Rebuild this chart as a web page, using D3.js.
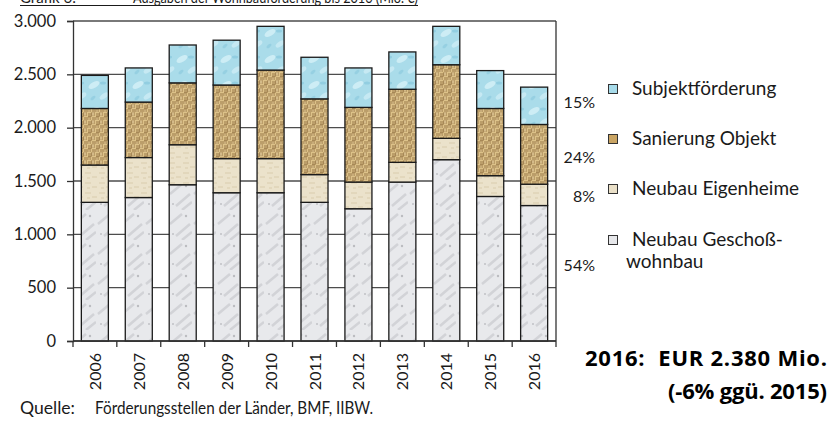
<!doctype html>
<html lang="de">
<head>
<meta charset="utf-8"/>
<title>Ausgaben der Wohnbauförderung bis 2016</title>
<style>
  body { margin: 0; background: #fff; }
  svg { display: block; }
  .lbl { font-family: Lato, "Open Sans", sans-serif; fill: #1a1a1a; }
  .big { font-family: "Open Sans", "Liberation Sans", sans-serif; font-weight: bold; fill: #000; }
</style>
<script src="https://d3js.org/d3.v7.min.js"></script>
</head>
<body>
<svg width="831" height="421"></svg>
<script>
// values in Mio. EUR
var years = ["2006","2007","2008","2009","2010","2011","2012","2013","2014","2015","2016"];
var geschoss   = [1300, 1345, 1465, 1390, 1390, 1300, 1240, 1490, 1700, 1355, 1270];
var eigenheime = [ 350,  375,  375,  320,  320,  260,  250,  185,  200,  195,  200];
var sanierung  = [ 530,  520,  580,  690,  830,  710,  700,  685,  690,  630,  560];
var subjekt    = [ 310,  320,  355,  420,  410,  390,  370,  350,  360,  355,  350];
var yTicks = [0, 500, 1000, 1500, 2000, 2500, 3000];
var seriesNames = ["Subjektförderung", "Sanierung Objekt", "Neubau Eigenheime", "Neubau Geschoß-"];
var shares = ["15%", "24%", "8%", "54%"];

var svg = d3.select("svg");
var plotLeft = 73, plotRight = 556, plotTop = 21, plotBottom = 341;

var x = d3.scaleBand().domain(years).range([plotLeft, plotRight]).paddingInner(0.385).paddingOuter(0.19);
var y = d3.scaleLinear().domain([0, 3000]).range([plotBottom, plotTop]);

// textures
var defs = svg.append("defs");

var pSub = defs.append("pattern").attr("id", "pSub").attr("patternUnits", "userSpaceOnUse")
    .attr("width", 22).attr("height", 26);
pSub.append("rect").attr("width", 22).attr("height", 26).attr("fill", "#aadcea");
pSub.append("ellipse").attr("cx", 6).attr("cy", 7).attr("rx", 6).attr("ry", 3).attr("fill", "#cdedf5").attr("transform", "rotate(-30 6 7)");
pSub.append("ellipse").attr("cx", 16).attr("cy", 18).attr("rx", 5).attr("ry", 2.5).attr("fill", "#c6e9f3").attr("transform", "rotate(-35 16 18)");
pSub.append("ellipse").attr("cx", 15).attr("cy", 5).attr("rx", 3).attr("ry", 1.5).attr("fill", "#92cee1");
pSub.append("ellipse").attr("cx", 5).attr("cy", 20).attr("rx", 3).attr("ry", 1.5).attr("fill", "#96d0e2").attr("transform", "rotate(-40 5 20)");

var pSan = defs.append("pattern").attr("id", "pSan").attr("patternUnits", "userSpaceOnUse")
    .attr("width", 8).attr("height", 8);
pSan.append("rect").attr("width", 8).attr("height", 8).attr("fill", "#ddc289");
pSan.append("path").attr("d", "M0,2H4M0,4H4M4,0V4M6,0V4M4,6H8M4,8H8M2,4V8M0,4V8")
    .attr("stroke", "#86663a").attr("stroke-width", 0.8).attr("fill", "none");
pSan.append("rect").attr("x", 4.5).attr("y", 0.5).attr("width", 1).attr("height", 3).attr("fill", "#eed8a8");
pSan.append("rect").attr("x", 0.5).attr("y", 6.5).attr("width", 1).attr("height", 1).attr("fill", "#eed8a8");

var pEig = defs.append("pattern").attr("id", "pEig").attr("patternUnits", "userSpaceOnUse")
    .attr("width", 14).attr("height", 10);
pEig.append("rect").attr("width", 14).attr("height", 10).attr("fill", "#ebe2cb");
pEig.append("path").attr("d", "M1,3H7M8,7H13M3,8H6").attr("stroke", "#dacdad").attr("stroke-width", 1);

var pGes = defs.append("pattern").attr("id", "pGes").attr("patternUnits", "userSpaceOnUse")
    .attr("width", 24).attr("height", 30);
pGes.append("rect").attr("width", 24).attr("height", 30).attr("fill", "#e8e9ec");
pGes.append("path").attr("d", "M2,14L14,4M8,26L22,14M14,30L24,22")
    .attr("stroke", "#d2d3d7").attr("stroke-width", 2.5).attr("fill", "none");
pGes.append("circle").attr("cx", 18).attr("cy", 6).attr("r", 1.2).attr("fill", "#bbbcc0");
pGes.append("circle").attr("cx", 5).attr("cy", 24).attr("r", 1).attr("fill", "#c1c2c6");

var fills = { ges: "url(#pGes)", eig: "url(#pEig)", san: "url(#pSan)", sub: "url(#pSub)" };

// cut-off title at top
var title = svg.append("text").attr("class", "lbl").attr("y", 3).attr("font-size", 15);
title.append("tspan").attr("x", 20).text("Grafik 6:");
title.append("tspan").attr("x", 133).attr("textLength", 285).attr("lengthAdjust", "spacingAndGlyphs")
     .text("Ausgaben der Wohnbauförderung bis 2016 (Mio. €)");
svg.append("line").attr("x1", 20).attr("x2", 418).attr("y1", 5.5).attr("y2", 5.5)
   .attr("stroke", "#1a1a1a").attr("stroke-width", 1.2);

// gridlines
svg.append("g").selectAll("line").data(yTicks).enter().append("line")
   .attr("x1", plotLeft).attr("x2", plotRight)
   .attr("y1", function(d) { return y(d); }).attr("y2", function(d) { return y(d); })
   .attr("stroke", "#4d4d4d").attr("stroke-width", 1.3);

// y axis
var yAxis = svg.append("g").attr("transform", "translate(" + plotLeft + ",0)")
   .call(d3.axisLeft(y).tickValues(yTicks).tickSize(6).tickPadding(11)
         .tickFormat(function(d) { return d3.format(",")(d).replace(",", "."); }));
yAxis.select(".domain").attr("stroke", "#333").attr("stroke-width", 1.3);
yAxis.selectAll(".tick line").attr("stroke", "#333").attr("stroke-width", 1.3);
yAxis.selectAll("text").attr("class", "lbl").attr("font-size", 16.5).attr("fill", "#1a1a1a");

// right border
svg.append("line").attr("x1", plotRight).attr("x2", plotRight).attr("y1", plotTop).attr("y2", plotBottom)
   .attr("stroke", "#333").attr("stroke-width", 1.3);

// stacked bars
var rows = years.map(function(yr, i) {
    return { year: yr, ges: geschoss[i], eig: eigenheime[i], san: sanierung[i], sub: subjekt[i] };
});
var stack = d3.stack().keys(["ges", "eig", "san", "sub"])(rows);

svg.append("g").selectAll("g").data(stack).enter().append("g")
   .attr("fill", function(s) { return fills[s.key]; })
   .selectAll("rect").data(function(s) { return s; }).enter().append("rect")
   .attr("x", function(d) { return x(d.data.year); })
   .attr("width", x.bandwidth())
   .attr("y", function(d) { return y(d[1]); })
   .attr("height", function(d) { return y(d[0]) - y(d[1]); })
   .attr("stroke", "#1a1a1a").attr("stroke-width", 1.3);

// x axis: ticks between bars
var bounds = years.map(function(yr) { return x(yr) - x.step() * x.paddingInner() / 2; }).concat([plotRight]);
bounds[0] = plotLeft;
var xg = svg.append("g");
xg.append("line").attr("x1", plotLeft).attr("x2", plotRight).attr("y1", plotBottom).attr("y2", plotBottom)
  .attr("stroke", "#333").attr("stroke-width", 1.3);
xg.selectAll(".xt").data(bounds).enter().append("line")
  .attr("x1", function(d) { return d; }).attr("x2", function(d) { return d; })
  .attr("y1", plotBottom).attr("y2", plotBottom + 6)
  .attr("stroke", "#333").attr("stroke-width", 1.3);
xg.selectAll(".yr").data(years).enter().append("text")
  .attr("class", "lbl").attr("font-size", 16)
  .attr("text-anchor", "end")
  .attr("transform", function(d) {
      return "translate(" + (x(d) + x.bandwidth() / 2 + 6) + "," + (plotBottom + 12) + ") rotate(-90)";
  })
  .text(function(d) { return d; });

// source
var src = svg.append("text").attr("class", "lbl").attr("y", 414).attr("font-size", 18);
src.append("tspan").attr("x", 20).attr("textLength", 55).attr("lengthAdjust", "spacingAndGlyphs").text("Quelle:");
src.append("tspan").attr("x", 95).attr("textLength", 278).attr("lengthAdjust", "spacingAndGlyphs")
   .text("Förderungsstellen der Länder, BMF, IIBW.");

// legend
var legFill = ["#a7dbea", "#c9a463", "#eae0c8", "#e6e7ea"];
var legY = [89, 139, 189, 240];
var leg = svg.append("g");
leg.selectAll("rect").data(seriesNames).enter().append("rect")
   .attr("x", 608.5).attr("y", function(d, i) { return legY[i] - 4.5; })
   .attr("width", 9).attr("height", 9)
   .attr("fill", function(d, i) { return legFill[i]; })
   .attr("stroke", "#333").attr("stroke-width", 1);
leg.selectAll("text.nm").data(seriesNames).enter().append("text")
   .attr("class", "lbl nm").attr("font-size", 19)
   .attr("x", 632).attr("y", function(d, i) { return legY[i] + 6; })
   .text(function(d) { return d; });
leg.append("text").attr("class", "lbl").attr("font-size", 19)
   .attr("x", 626).attr("y", 268).text("wohnbau");

var shareY = [108, 163, 202, 271];
leg.selectAll("text.sh").data(shares).enter().append("text")
   .attr("class", "lbl sh").attr("font-size", 16).attr("text-anchor", "end")
   .attr("x", 595).attr("y", function(d, i) { return shareY[i]; })
   .text(function(d) { return d; });

// annotation
svg.append("text").attr("class", "big").attr("font-size", 22).attr("x", 585).attr("y", 366)
   .attr("xml:space", "preserve").attr("textLength", 242).attr("lengthAdjust", "spacing")
   .text("2016:  EUR 2.380 Mio.");
svg.append("text").attr("class", "big").attr("font-size", 22).attr("x", 668).attr("y", 399)
   .attr("textLength", 159).attr("lengthAdjust", "spacing")
   .text("(-6% ggü. 2015)");
</script>
</body>
</html>
